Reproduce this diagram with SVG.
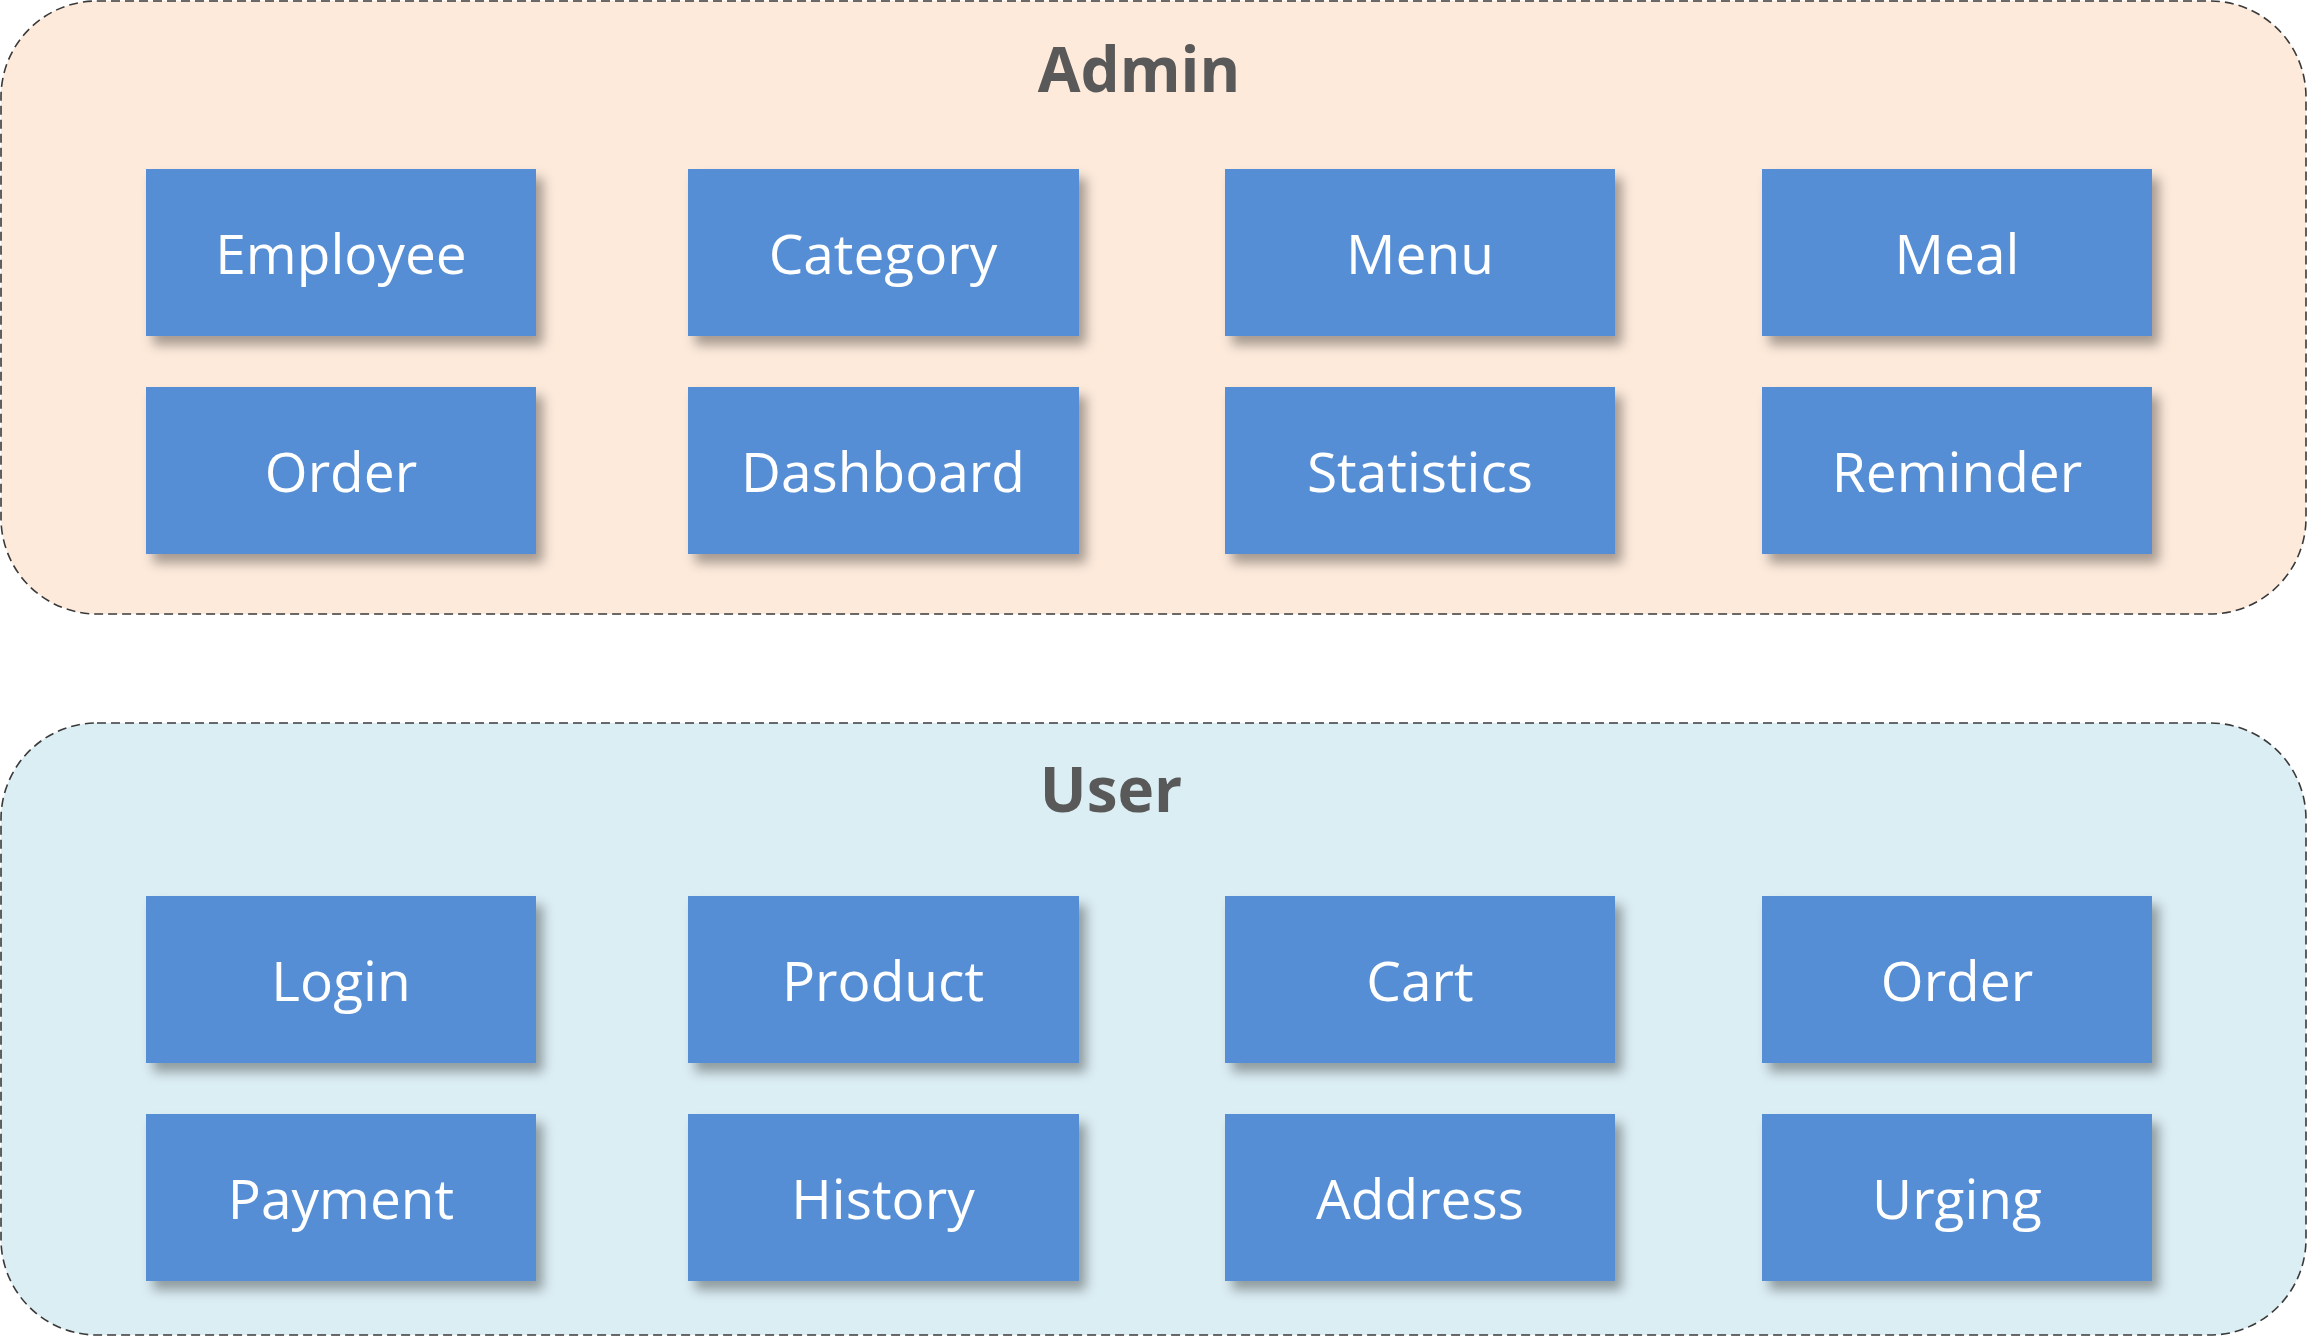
<svg xmlns="http://www.w3.org/2000/svg" width="2308" height="1337" viewBox="0 0 2308 1337">
<style>
.container{stroke:#3a3a3a;stroke-width:1.6;stroke-dasharray:9 5}
.title{font-family:"Open Sans","Liberation Sans",sans-serif;font-weight:bold;font-size:62px;fill:#595959;text-anchor:middle}
.box{fill:#558ED5;filter:url(#sh)}
.lbl{font-family:"Open Sans","Liberation Sans",sans-serif;font-size:55px;fill:#ffffff;text-anchor:middle}
</style>
<defs>
<filter id="sh" x="-10%" y="-20%" width="125%" height="150%">
<feDropShadow dx="7" dy="9" stdDeviation="6" flood-color="#000" flood-opacity="0.35"/>
</filter>
</defs>
<rect width="2308" height="1337" fill="#ffffff"/>
<g id="admin">
<rect class="container" x="1" y="1" width="2305" height="613" rx="96" ry="96" fill="#FDEADB"/>
<text class="title" x="1139" y="92">Admin</text>
</g>
<g id="user">
<rect class="container" x="1" y="723" width="2305" height="612" rx="96" ry="96" fill="#DBEEF4"/>
<text class="title" x="1111" y="812">User</text>
</g>
<g id="admin-employee"><rect class="box" x="146" y="169" width="390" height="167"/><text class="lbl" x="341" y="274">Employee</text></g>
<g id="admin-category"><rect class="box" x="688" y="169" width="391" height="167"/><text class="lbl" x="883" y="274">Category</text></g>
<g id="admin-menu"><rect class="box" x="1225" y="169" width="390" height="167"/><text class="lbl" x="1420" y="274">Menu</text></g>
<g id="admin-meal"><rect class="box" x="1762" y="169" width="390" height="167"/><text class="lbl" x="1957" y="274">Meal</text></g>
<g id="admin-order"><rect class="box" x="146" y="387" width="390" height="167"/><text class="lbl" x="341" y="492">Order</text></g>
<g id="admin-dashboard"><rect class="box" x="688" y="387" width="391" height="167"/><text class="lbl" x="883" y="492">Dashboard</text></g>
<g id="admin-statistics"><rect class="box" x="1225" y="387" width="390" height="167"/><text class="lbl" x="1420" y="492">Statistics</text></g>
<g id="admin-reminder"><rect class="box" x="1762" y="387" width="390" height="167"/><text class="lbl" x="1957" y="492">Reminder</text></g>
<g id="user-login"><rect class="box" x="146" y="896" width="390" height="167"/><text class="lbl" x="341" y="1001">Login</text></g>
<g id="user-product"><rect class="box" x="688" y="896" width="391" height="167"/><text class="lbl" x="883" y="1001">Product</text></g>
<g id="user-cart"><rect class="box" x="1225" y="896" width="390" height="167"/><text class="lbl" x="1420" y="1001">Cart</text></g>
<g id="user-order"><rect class="box" x="1762" y="896" width="390" height="167"/><text class="lbl" x="1957" y="1001">Order</text></g>
<g id="user-payment"><rect class="box" x="146" y="1114" width="390" height="167"/><text class="lbl" x="341" y="1219">Payment</text></g>
<g id="user-history"><rect class="box" x="688" y="1114" width="391" height="167"/><text class="lbl" x="883" y="1219">History</text></g>
<g id="user-address"><rect class="box" x="1225" y="1114" width="390" height="167"/><text class="lbl" x="1420" y="1219">Address</text></g>
<g id="user-urging"><rect class="box" x="1762" y="1114" width="390" height="167"/><text class="lbl" x="1957" y="1219">Urging</text></g>
<g id="connectors"></g>
</svg>
